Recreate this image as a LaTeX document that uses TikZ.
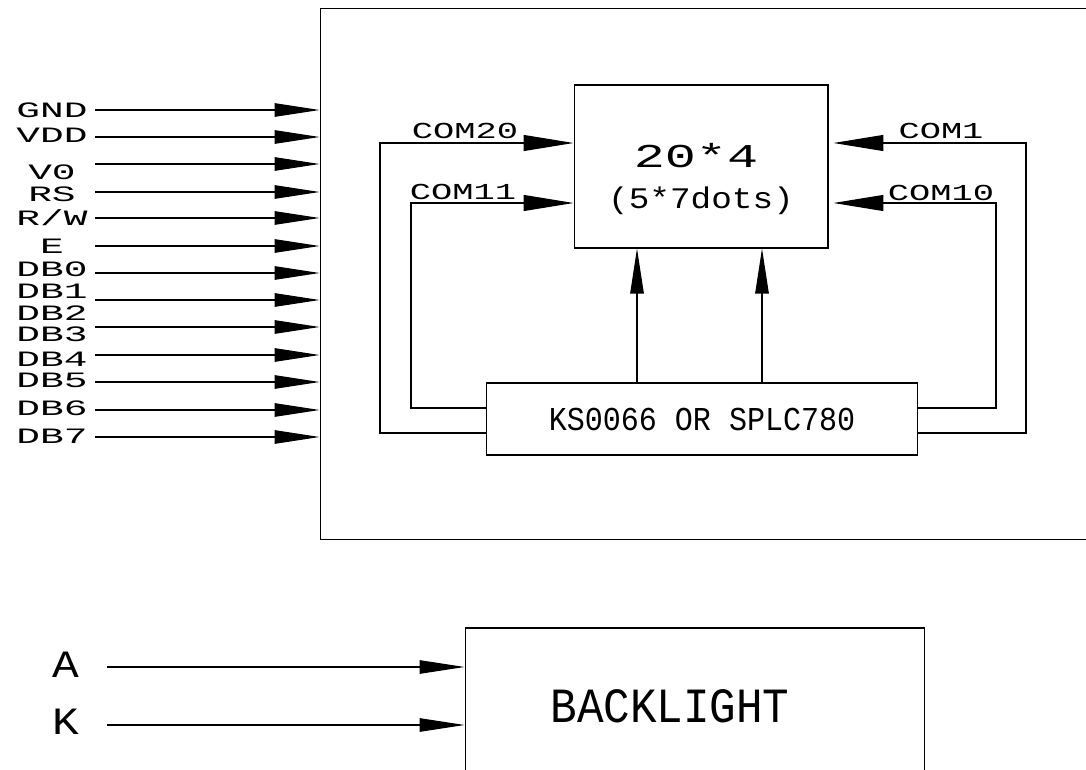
\documentclass[tikz,border=0pt]{standalone}
\usepackage{fontspec}
\usetikzlibrary{arrows.meta}
\newfontfamily\cadpin[FakeStretch=1.8]{Liberation Mono}
\newfontfamily\cadwide[FakeStretch=1.55]{Liberation Mono}
\newfontfamily\cadmid[FakeStretch=1.15]{Liberation Mono}
\newfontfamily\cadnarrow[FakeStretch=0.9]{Liberation Mono}
\tikzset{
  sigarrow/.style={-{Triangle[length=0.9cm,width=0.27cm]}},
  comarrow/.style={-{Triangle[length=1.0cm,width=0.32cm]}},
  blk/.style={draw,inner sep=0pt},
  pinlbl/.style={inner sep=0pt,font=\cadpin\fontsize{12.5}{14}\selectfont},
  comlbl/.style={inner sep=0pt,font=\cadwide\fontsize{13}{15}\selectfont}
}
\begin{document}
\begin{tikzpicture}[x=0.02cm,y=-0.02cm,line width=0.6pt]
  \useasboundingbox (0,0) rectangle (1086,770);
  \clip (0,0) rectangle (1086,770);

  % module outline
  \node[blk,minimum width=15.6cm,minimum height=10.64cm] (lcd) at (710,274) {};

  % interface pins
  \foreach \t/\y [count=\i] in {GND/110,VDD/135,V0/172,RS/194,{R/W}/218,E/246,
      DB0/269,DB1/291,DB2/313,DB3/334,DB4/359,DB5/380,DB6/408,DB7/436}
    \node[pinlbl] (pl\i) at (52,\y) {\t};
  \foreach \y [count=\i] in {110,137,164,192,218,246,273,300,327,355,382,410,437} {
    \coordinate (s\i) at (95,\y);
    \draw[sigarrow] (s\i) -- (s\i -| lcd.west);
  }

  % display and controller
  \node[blk,minimum width=5.08cm,minimum height=3.26cm] (disp) at (701,166.5) {};
  \node[inner sep=0pt,font=\cadwide\fontsize{19}{21}\selectfont] (dsize) at (696,156) {20*4};
  \node[inner sep=0pt,font=\cadmid\fontsize{17}{19}\selectfont] (ddots) at (701,201) {(5*7dots)};
  \node[blk,minimum width=8.64cm,minimum height=1.44cm,
        font=\cadnarrow\fontsize{19}{21}\selectfont] (ctrl) at (702,419) {KS0066 OR SPLC780};

  % common lines
  \coordinate (lo) at (0,433);
  \coordinate (li) at (0,408);
  \coordinate (c20) at (380,143);
  \coordinate (c11) at (411,203);
  \coordinate (c1) at (1026,143);
  \coordinate (c10) at (996,203);
  \draw[comarrow] (ctrl.west |- lo) -| (c20) -- (c20 -| disp.west);
  \draw[comarrow] (ctrl.west |- li) -| (c11) -- (c11 -| disp.west);
  \draw[comarrow,shorten >=0.1cm] (ctrl.east |- lo) -| (c1) -- (c1 -| disp.east);
  \draw[comarrow,shorten >=0.1cm] (ctrl.east |- li) -| (c10) -- (c10 -| disp.east);
  \node[comlbl] (l20) at (465,131) {COM20};
  \node[comlbl] (l11) at (463,192) {COM11};
  \node[comlbl] (l1) at (941,131) {COM1};
  \node[comlbl] (l10) at (941,193) {COM10};

  % segment lines
  \coordinate (v1) at (637,0);
  \coordinate (v2) at (762,0);
  \draw[sigarrow] (ctrl.north -| v1) -- (disp.south -| v1);
  \draw[sigarrow] (ctrl.north -| v2) -- (disp.south -| v2);

  % backlight
  \node[blk,minimum width=9.2cm,minimum height=3.6cm] (bl) at (695,718) {};
  \node[inner sep=0pt,font=\cadnarrow\fontsize{28}{30}\selectfont] (bltxt) at (670,706) {BACKLIGHT};
  \node[inner sep=0pt,font=\cadmid\fontsize{22}{24}\selectfont] (la) at (66,665) {A};
  \node[inner sep=0pt,font=\cadmid\fontsize{22}{24}\selectfont] (lk) at (66,722) {K};
  \coordinate (sa) at (107,667);
  \coordinate (sk) at (107,725);
  \draw[sigarrow] (sa) -- (sa -| bl.west);
  \draw[sigarrow] (sk) -- (sk -| bl.west);
\end{tikzpicture}
\end{document}
